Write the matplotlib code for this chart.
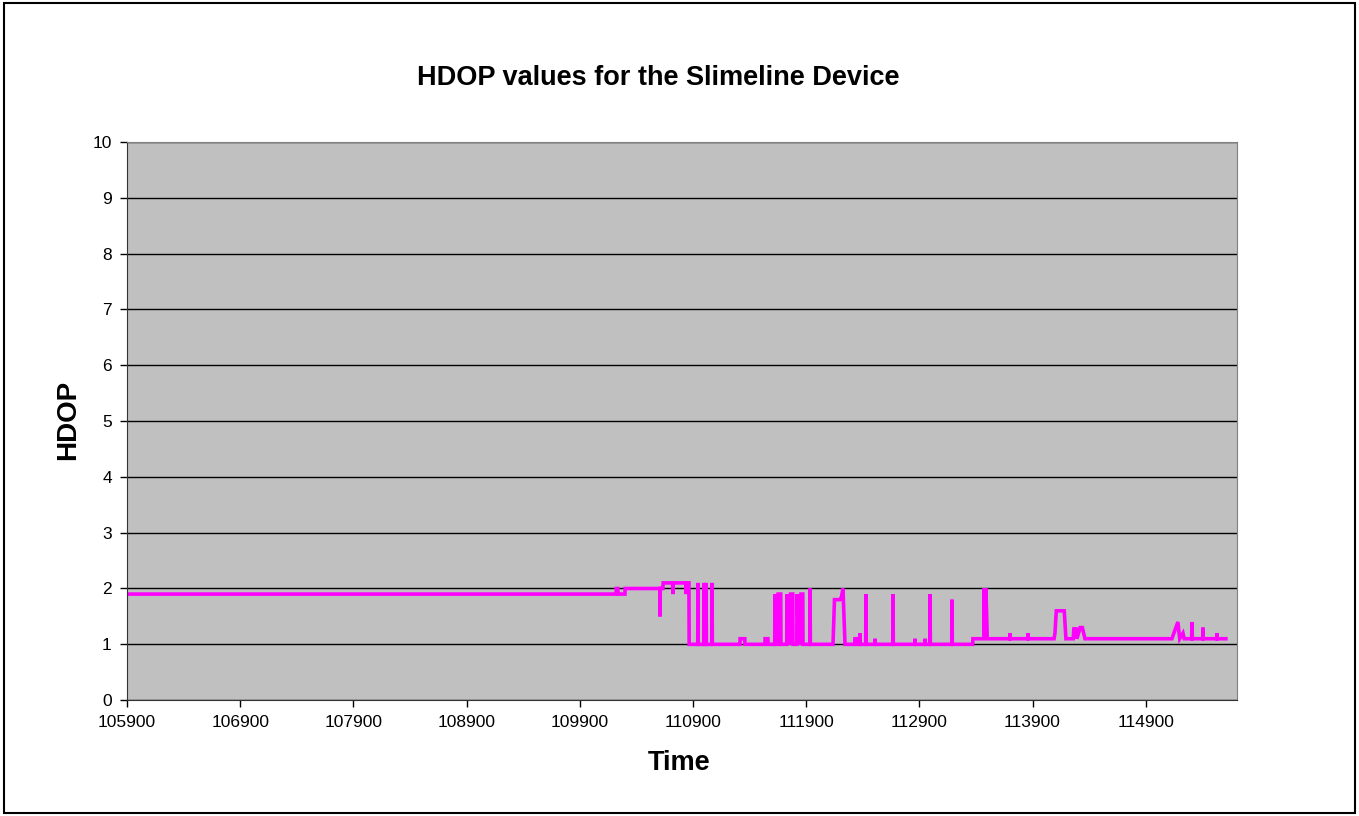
import matplotlib.pyplot as plt
from matplotlib.patches import Rectangle

plt.rcParams['font.family'] = ['Liberation Sans', 'DejaVu Sans']

# time stamps (hhmmss-like) and HDOP readings
time = [105900, 110220, 110222, 110236, 110238, 110299, 110300, 110608, 110609, 110611,
        110634, 110636, 110720, 110722, 110726, 110836, 110838, 110840, 110864, 110866,
        110942, 110944, 110946, 110995, 110997, 111000, 111013, 111015, 111018, 111066,
        111068, 111071, 111315, 111316, 111358, 111359, 111536, 111537, 111562, 111563,
        111622, 111624, 111627, 111650, 111652, 111675, 111677, 111728, 111730, 111745,
        111747, 111760, 111762, 111781, 111783, 111817, 111819, 111835, 111837, 111852,
        111854, 111870, 111872, 111932, 111934, 111937, 112137, 112150, 112199, 112212,
        112225, 112243, 112329, 112331, 112345, 112347, 112373, 112375, 112378, 112426,
        112428, 112431, 112506, 112508, 112512, 112665, 112667, 112670, 112859, 112861,
        112865, 112947, 112949, 112953, 112992, 112994, 112997, 113186, 113188, 113191,
        113371, 113373, 113470, 113472, 113478, 113480, 113486, 113488, 113500, 113698,
        113700, 113703, 113857, 113859, 113862, 114090, 114098, 114110, 114180, 114195,
        114260, 114265, 114272, 114285, 114292, 114320, 114340, 114363, 115131, 115184,
        115200, 115229, 115240, 115306, 115308, 115312, 115403, 115405, 115408, 115527,
        115529, 115532, 115608]
hdop = [1.9, 1.9, 2.0, 2.0, 1.9, 1.9, 2.0, 2.0, 1.5, 2.0,
        2.0, 2.1, 2.1, 1.9, 2.1, 2.1, 1.9, 2.1, 2.1, 1.0,
        1.0, 2.1, 1.0, 1.0, 2.1, 1.0, 1.0, 2.1, 1.0, 1.0,
        2.1, 1.0, 1.0, 1.1, 1.1, 1.0, 1.0, 1.1, 1.1, 1.0,
        1.0, 1.9, 1.0, 1.0, 1.9, 1.9, 1.0, 1.0, 1.9, 1.0,
        1.9, 1.0, 1.9, 1.9, 1.0, 1.0, 1.9, 1.0, 1.9, 1.0,
        1.9, 1.9, 1.0, 1.0, 2.0, 1.0, 1.0, 1.8, 1.8, 1.85,
        2.0, 1.0, 1.0, 1.1, 1.1, 1.0, 1.0, 1.2, 1.0, 1.0,
        1.9, 1.0, 1.0, 1.1, 1.0, 1.0, 1.9, 1.0, 1.0, 1.1,
        1.0, 1.0, 1.1, 1.0, 1.0, 1.9, 1.0, 1.0, 1.8, 1.0,
        1.0, 1.1, 1.1, 2.0, 1.1, 2.0, 1.1, 2.0, 1.1, 1.1,
        1.2, 1.1, 1.1, 1.2, 1.1, 1.1, 1.2, 1.6, 1.6, 1.1,
        1.1, 1.3, 1.1, 1.3, 1.1, 1.3, 1.3, 1.1, 1.1, 1.4,
        1.1, 1.2, 1.1, 1.1, 1.4, 1.1, 1.1, 1.3, 1.1, 1.1,
        1.2, 1.1, 1.1]

x_ticks = list(range(105900, 115000, 1000))
y_ticks = list(range(0, 11))


def main():
    fig = plt.figure(figsize=(13.59, 8.16), dpi=100)
    fig.patches.append(Rectangle((0.003, 0.004), 0.994, 0.992, transform=fig.transFigure,
                                 fill=False, edgecolor='black', linewidth=1.5))

    ax = fig.add_axes([0.0935, 0.142, 0.8167, 0.684])
    ax.set_facecolor('#C0C0C0')
    ax.plot(time, hdop, color='#FF00FF', linewidth=2.6, solid_joinstyle='miter')

    ax.set_xlim(105900, 115706)
    ax.set_ylim(0, 10)
    ax.set_xticks(x_ticks)
    ax.set_yticks(y_ticks)
    ax.tick_params(labelsize=12.5, direction='out', length=5, width=1, colors='black', pad=6)
    ax.yaxis.grid(True, color='black', linewidth=1)
    ax.set_axisbelow(True)
    for side in ['top', 'right']:
        ax.spines[side].set_color('#808080')
    for side in ['left', 'bottom']:
        ax.spines[side].set_color('#333333')

    fig.text(0.484, 0.904, 'HDOP values for the Slimeline Device', ha='center', va='center',
             fontsize=19.5, fontweight='bold')
    fig.text(0.500, 0.065, 'Time', ha='center', va='center', fontsize=19.5, fontweight='bold')
    fig.text(0.050, 0.485, 'HDOP', ha='center', va='center', rotation=90,
             fontsize=20, fontweight='bold')

    fig.savefig('out.png', dpi=100)


if __name__ == "__main__":
    main()
